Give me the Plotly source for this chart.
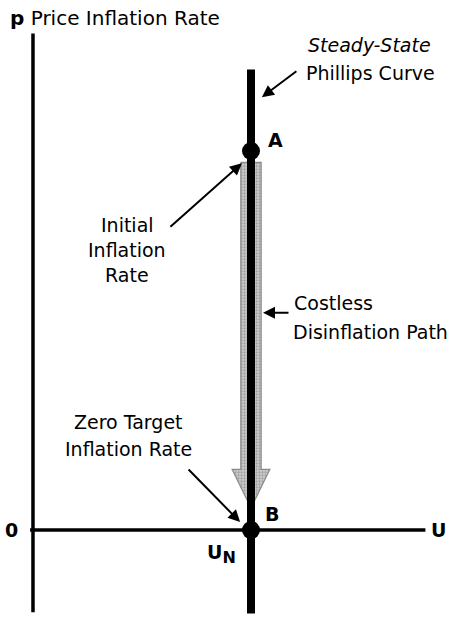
import plotly.graph_objects as go

# natural rate of unemployment and the two equilibrium points
U_N = 6.0
POINT_NAMES = ["A", "B"]
POINT_U = [U_N, U_N]
POINT_P = [10.0, 0.0]

# vertical steady-state Phillips curve (p extent)
CURVE_P = [-2.2, 12.15]

# axis extents
U_AXIS = [-0.08, 10.8]
P_AXIS = [-2.17, 13.1]

# disinflation path: from just below A down to just above B
PATH_TOP = 9.7
PATH_HEAD = 1.6
PATH_TIP = 0.58
PATH_HALF = 0.28
HEAD_HALF = 0.52

FONT = "DejaVu Sans"
FS = 19

fig = go.Figure()

# axes
fig.add_trace(go.Scatter(x=U_AXIS, y=[0, 0], mode="lines",
                         line=dict(color="black", width=3.5), hoverinfo="none"))
fig.add_trace(go.Scatter(x=[0, 0], y=P_AXIS, mode="lines",
                         line=dict(color="black", width=3.5), hoverinfo="none"))

# gray disinflation arrow
path_x = [U_N - PATH_HALF, U_N + PATH_HALF, U_N + PATH_HALF, U_N + HEAD_HALF,
          U_N, U_N - HEAD_HALF, U_N - PATH_HALF, U_N - PATH_HALF]
path_y = [PATH_TOP, PATH_TOP, PATH_HEAD, PATH_HEAD,
          PATH_TIP, PATH_HEAD, PATH_HEAD, PATH_TOP]
fig.add_trace(go.Scatter(
    x=path_x, y=path_y, mode="lines", fill="toself",
    fillcolor="#b5b5b5",
    fillpattern=dict(shape=".", fgcolor="#6e6e6e", bgcolor="#cfcfcf",
                     size=3, solidity=0.45),
    line=dict(color="#8a8a8a", width=1.2), hoverinfo="none"))

# steady-state Phillips curve
fig.add_trace(go.Scatter(x=[U_N, U_N], y=CURVE_P, mode="lines",
                         line=dict(color="black", width=8), hoverinfo="none"))

# points A and B
fig.add_trace(go.Scatter(x=POINT_U, y=POINT_P, mode="markers",
                         marker=dict(color="black", size=18), hoverinfo="none"))


def label(text, x, y, anchor="center", size=FS):
    fig.add_annotation(x=x, y=y, text=text, showarrow=False,
                       xanchor=anchor, yanchor="middle",
                       font=dict(family=FONT, size=size, color="black"))


def pointer(x, y, ax, ay):
    fig.add_annotation(x=x, y=y, ax=ax, ay=ay, text="", showarrow=True,
                       arrowhead=2, arrowsize=1.2, arrowwidth=2,
                       arrowcolor="black")


# axis labels
label("<b>p</b> Price Inflation Rate", -0.7, 13.52, anchor="left", size=20)
label("<b>0</b>", -0.6, 0.0)
label("<b>U</b>", 11.15, 0.0)
label("<b>U<sub><span style='font-size:16px'>N</span></sub></b>",
      U_N - 0.82, -0.62)

# point labels
label("<b>A</b>", POINT_U[0] + 0.68, POINT_P[0] + 0.3)
label("<b>B</b>", POINT_U[1] + 0.58, POINT_P[1] + 0.42)

# descriptions
label("<i>Steady-State</i>", 7.5, 12.8, anchor="left")
label("Phillips Curve", 7.45, 12.06, anchor="left")
pointer(U_N + 0.3, 11.42, 36, -27)

label("Initial", 2.59, 8.05)
label("Inflation", 2.59, 7.39)
label("Rate", 2.59, 6.73)
pointer(U_N - 0.25, 9.68, -73, 65)

label("Costless", 7.13, 5.99, anchor="left")
label("Disinflation Path", 7.1, 5.22, anchor="left")
pointer(U_N + 0.33, 5.73, 27, 0)

label("Zero Target", 2.64, 2.85)
label("Inflation Rate", 2.62, 2.14)
pointer(U_N - 0.3, 0.21, -53, -54)

fig.update_layout(
    width=450, height=617,
    margin=dict(l=0, r=0, t=0, b=0),
    paper_bgcolor="white", plot_bgcolor="white",
    showlegend=False,
    xaxis=dict(range=[-0.908, 11.477], visible=False, fixedrange=True),
    yaxis=dict(range=[-2.295, 13.984], visible=False, fixedrange=True),
)

fig.write_html("out.html", config={"displayModeBar": False},
               post_script="document.body.style.margin='0px';")
